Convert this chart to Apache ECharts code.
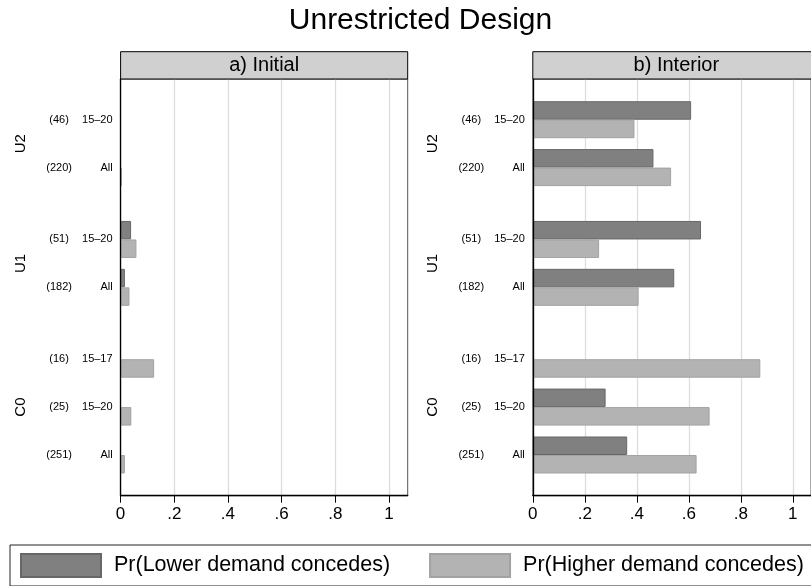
<!DOCTYPE html>
<html>
<head>
<meta charset="utf-8">
<script src="https://cdn.jsdelivr.net/npm/echarts@6/dist/echarts.min.js"></script>
<style>
  html, body { margin: 0; padding: 0; background: #fff; }
  #chart { width: 811px; height: 586px; }
</style>
</head>
<body>
<div id="chart"></div>
<script>
// Rows, top to bottom
const groupNames = ['U2', 'U1', 'C0'];
const rowGroup = ['U2', 'U2', 'U1', 'U1', 'C0', 'C0', 'C0'];
const rowRange = ['15–20', 'All', '15–20', 'All', '15–17', '15–20', 'All'];
const rowCount = [46, 220, 51, 182, 16, 25, 251];

// Panel a) Initial
const initialLower  = [0, 0, 0.039, 0.016, 0, 0, 0];
const initialHigher = [0, 0.005, 0.059, 0.033, 0.125, 0.04, 0.016];
// Panel b) Interior
const interiorLower  = [0.609, 0.464, 0.647, 0.544, 0, 0.28, 0.363];
const interiorHigher = [0.391, 0.532, 0.255, 0.407, 0.875, 0.68, 0.63];

const xTicks = [0, 0.2, 0.4, 0.6, 0.8, 1];
const panelTitles = ['a) Initial', 'b) Interior'];
const seriesNames = ['Pr(Lower demand concedes)', 'Pr(Higher demand concedes)'];
const chartTitle = 'Unrestricted Design';

const FONT = '"Liberation Sans", Arial, Helvetica, sans-serif';

// Vertical layout: rows one unit apart, half a unit between groups.
// The category axis is cut into tenths of a row so rows and groups land on slots.
const SUB = 10, PAD = 8;
const rowPos = [];
(function () {
  let cursor = 0, prev = null;
  rowGroup.forEach(function (g) {
    if (prev !== null && g !== prev) cursor += 0.5;
    rowPos.push(cursor);
    cursor += 1;
    prev = g;
  });
})();
const rowSlot = rowPos.map(function (p) { return PAD + Math.round(p * SUB); });
const slotCount = rowSlot[rowSlot.length - 1] + 1 + PAD;
const slots = [];
for (let k = 0; k < slotCount; k++) slots.push('s' + k);

const rowLabelAt = {};
rowSlot.forEach(function (s, i) {
  rowLabelAt[slots[s]] = '{n|(' + rowCount[i] + ')}{c|' + rowRange[i] + '}';
});
const groupAt = {};
groupNames.forEach(function (g) {
  const ps = rowPos.filter(function (p, i) { return rowGroup[i] === g; });
  const mid = (ps[0] + ps[ps.length - 1]) / 2;
  groupAt[slots[PAD + Math.round(mid * SUB)]] = g;
});

// Panel geometry
const gridTop = 79, gridHeight = 416.7, gridWidth = 287.1;
const gridLefts = [120.6, 532.8];
const headerTop = 51.7, headerHeight = 27.3;

function fmtTick(v) {
  const r = Math.round(v * 10) / 10;
  if (r === 0) return '0';
  if (r === 1) return '1';
  return String(r).replace(/^0/, '');
}

const grids = [], xAxes = [], yAxes = [], series = [], graphics = [];
const panelData = [[initialLower, initialHigher], [interiorLower, interiorHigher]];
const barColors = ['#808080', '#b3b3b3'];
const barBorders = ['#676767', '#a2a2a2'];

gridLefts.forEach(function (left, p) {
  grids.push({
    left: left, top: gridTop, width: gridWidth, height: gridHeight,
    show: true, borderColor: '#555', borderWidth: 1, backgroundColor: '#fff'
  });
  xAxes.push({
    type: 'value', gridIndex: p, min: 0, max: 1.07, interval: 0.2,
    axisLine: { show: true, lineStyle: { color: '#000', width: 1.3 } },
    axisTick: { show: true, length: 7, customValues: xTicks, lineStyle: { color: '#000', width: 1 } },
    axisLabel: { customValues: xTicks, margin: 10, fontSize: 17, color: '#000', fontFamily: FONT, formatter: fmtTick },
    splitLine: { show: true, lineStyle: { color: '#dddddd', width: 1.3 } }
  });
  yAxes.push({
    type: 'category', gridIndex: p, data: slots, inverse: true, position: 'left',
    axisLine: { show: true, onZero: false, lineStyle: { color: '#000', width: 1.3 } },
    axisTick: { show: false },
    splitLine: { show: false },
    z: 5,
    axisLabel: {
      interval: 0, margin: 8, color: '#000', fontFamily: FONT, fontSize: 11,
      formatter: function (v) { return rowLabelAt[v] || ''; },
      rich: {
        n: { width: 37, align: 'center', fontSize: 11, fontFamily: FONT, color: '#000' },
        c: { width: 35, align: 'right', fontSize: 11, fontFamily: FONT, color: '#000' }
      }
    }
  });
  yAxes.push({
    type: 'category', gridIndex: p, data: slots, inverse: true, position: 'left',
    axisLine: { show: false }, axisTick: { show: false }, splitLine: { show: false },
    axisLabel: {
      interval: 0, margin: 100, rotate: 90, align: 'center', verticalAlign: 'middle',
      color: '#000', fontFamily: FONT, fontSize: 15,
      formatter: function (v) { return groupAt[v] || ''; }
    }
  });
  panelData[p].forEach(function (vals, s) {
    series.push({
      type: 'bar', name: seriesNames[s], xAxisIndex: p, yAxisIndex: p * 2,
      data: vals.map(function (v, i) {
        // a zero share draws no outline stub
        return { value: [v, rowSlot[i]], itemStyle: { borderWidth: v > 0 ? 1 : 0 } };
      }),
      barWidth: 18.5, barGap: '0%',
      itemStyle: { color: barColors[s], borderColor: barBorders[s], borderWidth: 1 },
      emphasis: { disabled: true }
    });
  });
  graphics.push({
    type: 'rect',
    shape: { x: left, y: headerTop, width: gridWidth, height: headerHeight },
    style: { fill: '#d0d0d0', stroke: '#000', lineWidth: 1 },
    z: 10
  });
  graphics.push({
    type: 'text',
    x: left + gridWidth / 2, y: headerTop + headerHeight / 2 + 0.5,
    style: { text: panelTitles[p], font: '20px ' + FONT, fill: '#000', align: 'center', verticalAlign: 'middle' },
    z: 11
  });
});

const chart = echarts.init(document.getElementById('chart'), null, { renderer: 'canvas' });
chart.setOption({
  animation: false,
  backgroundColor: '#fff',
  title: {
    text: chartTitle, left: 415.5, textAlign: 'center', top: 1,
    textStyle: { fontSize: 30, fontWeight: 'normal', color: '#000', fontFamily: FONT }
  },
  legend: {
    data: seriesNames, left: 10, top: 545, width: 900, orient: 'horizontal',
    icon: 'rect', itemWidth: 80, itemHeight: 23, itemGap: 39,
    padding: [8, 12, 8, 10], borderColor: '#222', borderWidth: 1,
    selectedMode: false,
    textStyle: { fontSize: 21.5, fontFamily: FONT, color: '#000', padding: [0, 0, 0, 8] }
  },
  grid: grids,
  xAxis: xAxes,
  yAxis: yAxes,
  series: series,
  graphic: graphics
});
</script>
</body>
</html>
